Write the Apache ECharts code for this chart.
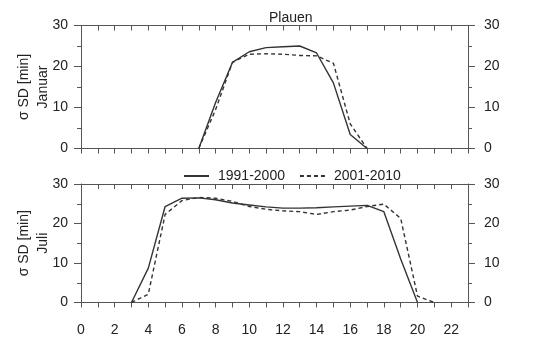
<!DOCTYPE html>
<html>
<head>
<meta charset="utf-8">
<script src="https://cdn.jsdelivr.net/npm/echarts@6/dist/echarts.min.js"></script>
<style>html,body{margin:0;padding:0;background:#fff;}#c{width:537px;height:354px;}</style>
</head>
<body>
<div id="c"></div>
<script>
const titleText = 'Plauen';
const seriesNames = ['1991-2000', '2001-2010'];
const panelNames = ['σ SD [min]\nJanuar', 'σ SD [min]\nJuli'];
const xTickLabels = [0, 2, 4, 6, 8, 10, 12, 14, 16, 18, 20, 22];

const hoursJan = [7, 8, 9, 10, 11, 12, 13, 14, 15, 16, 17];
const jan1991 = [0, 11.2, 21.0, 23.6, 24.6, 24.8, 25.0, 23.3, 16.0, 3.4, 0];
const jan2001 = [0, 9.5, 21.0, 23.0, 23.1, 23.0, 22.7, 22.6, 20.8, 6.0, 0];

const hoursJul1 = [3, 4, 5, 6, 7, 8, 9, 10, 11, 12, 13, 14, 15, 16, 17, 18, 19, 20];
const jul1991 = [0, 8.7, 24.3, 26.4, 26.5, 26.0, 25.2, 24.7, 24.2, 23.9, 23.9, 24.0, 24.2, 24.4, 24.6, 23.0, 11.0, 0];
const hoursJul2 = [3, 4, 5, 6, 7, 8, 9, 10, 11, 12, 13, 14, 15, 16, 17, 18, 19, 20, 21];
const jul2001 = [0, 2.1, 22.3, 25.8, 26.6, 26.4, 25.6, 24.3, 23.6, 23.2, 23.0, 22.3, 23.0, 23.4, 24.3, 24.9, 21.3, 1.6, 0];

const pairs = (xs, ys) => xs.map((x, i) => [x, ys[i]]);

const axisCol = '#555';
const txtCol = '#222';
const font = 'Liberation Sans, Arial, sans-serif';

function xAx(grid, pos, showLabels) {
  return {
    type: 'value', gridIndex: grid, position: pos, min: 0, max: 23, interval: 1,
    axisLine: {show: true, onZero: false, lineStyle: {color: axisCol, width: 1}},
    axisTick: {show: true, inside: pos === 'top', length: 5, lineStyle: {color: axisCol}},
    splitLine: {show: false},
    axisLabel: {show: showLabels, margin: 21, color: txtCol, fontSize: 14, fontFamily: font,
      formatter: v => xTickLabels.indexOf(v) >= 0 ? String(v) : ''}
  };
}
function yAx(grid, pos, name) {
  return {
    type: 'value', gridIndex: grid, position: pos, min: 0, max: 30, interval: 10,
    name: name || '', nameLocation: 'middle', nameRotate: 90, nameGap: 28, nameMoveOverlap: false,
    nameTextStyle: {color: txtCol, fontSize: 14, fontFamily: font, lineHeight: 19},
    axisLine: {show: true, onZero: false, lineStyle: {color: axisCol, width: 1}},
    axisTick: {show: true, length: 7, lineStyle: {color: axisCol}},
    minorTick: {show: true, splitNumber: 2, length: 4, lineStyle: {color: axisCol}},
    splitLine: {show: false}, minorSplitLine: {show: false},
    axisLabel: {show: true, margin: pos === 'left' ? 13 : 16, color: txtCol, fontSize: 14, fontFamily: font}
  };
}
function ser(name, xi, yi, data, dashed) {
  return {
    name: name, type: 'line', xAxisIndex: xi, yAxisIndex: yi, data: data,
    symbol: 'none', smooth: false, animation: false,
    lineStyle: {color: '#333', width: 1.4, type: dashed ? [4, 3] : 'solid'},
    itemStyle: {color: '#333'}
  };
}

const chart = echarts.init(document.getElementById('c'), null, {renderer: 'canvas'});
chart.setOption({
  animation: false,
  backgroundColor: '#fff',
  title: {text: titleText, left: 264, top: 6, textStyle: {fontSize: 14, fontWeight: 'normal', color: txtCol, fontFamily: font}},
  legend: {
    data: seriesNames, left: 178, top: 164, itemWidth: 25, itemHeight: 10, itemGap: 14,
    itemStyle: {opacity: 0},
    textStyle: {fontSize: 14, color: txtCol, fontFamily: font, padding: [0, 0, 0, 4]}
  },
  grid: [
    {left: 81, right: 69, top: 25.5, height: 123, containLabel: false},
    {left: 81, right: 69, top: 184, height: 118.5, containLabel: false}
  ],
  xAxis: [xAx(0, 'bottom', false), xAx(0, 'top', false), xAx(1, 'bottom', true), xAx(1, 'top', false)],
  yAxis: [yAx(0, 'left', panelNames[0]), yAx(0, 'right'), yAx(1, 'left', panelNames[1]), yAx(1, 'right')],
  series: [
    ser(seriesNames[0], 0, 0, pairs(hoursJan, jan1991), false),
    ser(seriesNames[1], 0, 0, pairs(hoursJan, jan2001), true),
    ser(seriesNames[0], 2, 2, pairs(hoursJul1, jul1991), false),
    ser(seriesNames[1], 2, 2, pairs(hoursJul2, jul2001), true)
  ]
});
</script>
</body>
</html>
